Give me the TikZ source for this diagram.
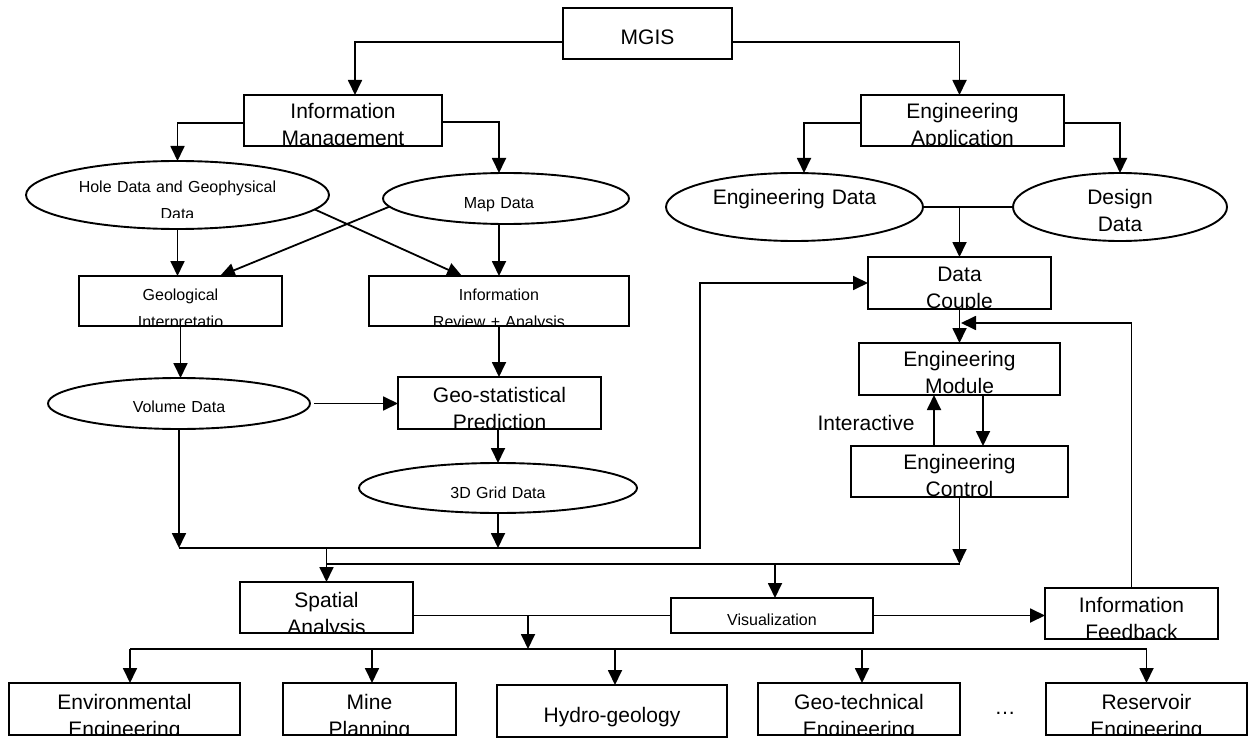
\documentclass[tikz,border=0pt]{standalone}
\usepackage{fontspec}
\setmainfont{Liberation Sans}
\usetikzlibrary{arrows.meta,calc,shapes.geometric}

\tikzset{
  box/.style={draw, line width=1.9pt, rectangle, inner sep=0pt, outer sep=0pt},
  oval/.style={draw, line width=1.9pt, ellipse, inner sep=0pt, outer sep=0pt},
  conn/.style={line width=1.8pt},
  arr/.style={conn, -{Triangle[length=15pt,width=14pt]}},
  txtL/.style={font=\fontsize{21}{27}\selectfont, align=center, text width=400pt, inner sep=0pt, anchor=base},
  txtS/.style={font=\fontsize{16}{27}\selectfont, align=center, text width=400pt, inner sep=0pt, anchor=base},
}

% text of a box, cut off at the box outline
\newcommand\boxtext[4]{%
  \begin{scope}
    \clip (#1.south west) rectangle (#1.north east);
    \node[#2] (#1-text) at #3 {#4};
  \end{scope}}

\begin{document}
\begin{tikzpicture}[x=1pt,y=-1pt]
\fill[white] (0,0) rectangle (1250,738);
\useasboundingbox (0,0) rectangle (1250,738);

% ---------- shapes ----------
\node[box, minimum width=169pt, minimum height=51pt] (mgis) at (647.5,33.5) {};
\node[box, minimum width=198pt, minimum height=51pt] (im)   at (343,120.5) {};
\node[box, minimum width=203pt, minimum height=51pt] (ea)   at (962.5,120.5) {};

\node[oval, minimum width=303pt, minimum height=68pt] (hole)   at (177.5,195) {};
\node[oval, minimum width=246pt, minimum height=51pt] (map)    at (506,198.5) {};
\node[oval, minimum width=257pt, minimum height=68pt] (engd)   at (794.5,207) {};
\node[oval, minimum width=214pt, minimum height=68pt] (design) at (1120,207) {};

\node[box, minimum width=203pt, minimum height=50pt] (geo) at (180.5,301) {};
\node[box, minimum width=260pt, minimum height=50pt] (rev) at (499,301) {};
\node[box, minimum width=183pt, minimum height=52pt] (dc)  at (959.5,283) {};

\node[oval, minimum width=262pt, minimum height=51pt] (vol) at (179,403.5) {};
\node[box, minimum width=203pt, minimum height=52pt] (gs)  at (499.5,403) {};
\node[box, minimum width=201pt, minimum height=52pt] (em)  at (959.5,369) {};
\node[box, minimum width=217pt, minimum height=51pt] (ec)  at (959.5,471.5) {};
\node[oval, minimum width=278pt, minimum height=50pt] (grid) at (498,488) {};

\node[box, minimum width=173pt, minimum height=51pt] (sa)  at (326.5,607.5) {};
\node[box, minimum width=202pt, minimum height=35pt] (vis) at (772,615.5) {};
\node[box, minimum width=173pt, minimum height=51pt] (fb)  at (1131.5,613.5) {};

\node[box, minimum width=231pt, minimum height=52pt] (env)   at (124.5,709) {};
\node[box, minimum width=173pt, minimum height=52pt] (mine)  at (369.5,709) {};
\node[box, minimum width=230pt, minimum height=52pt] (hydro) at (612,711) {};
\node[box, minimum width=202pt, minimum height=52pt] (geot)  at (859,709) {};
\node[box, minimum width=201pt, minimum height=52pt] (res)   at (1146.5,709) {};

% ---------- texts ----------
\boxtext{mgis}{txtL}{(647.5,45)}{MGIS}
\boxtext{im}{txtL}{(343,119)}{Information\\Management}
\boxtext{ea}{txtL}{(962.5,119)}{Engineering\\Application}

\begin{scope}
  \clip (hole.north west) rectangle ($(hole.east)+(0,23)$);
  \node[txtS] (hole-text) at (177.5,193) {Hole Data and Geophysical\\Data};
\end{scope}
\node[txtS] (map-text)  at (499,208.5) {Map Data};
\node[txtL] (engd-text) at (794.5,205) {Engineering Data};
\begin{scope}
  \clip (design.north west) rectangle ($(design.east)+(0,25)$);
  \node[txtL] (design-text) at (1120,205) {Design\\Data};
\end{scope}

\boxtext{geo}{txtS}{(180.5,300)}{Geological\\Interpretatio}
\boxtext{rev}{txtS}{(499,300)}{Information\\Review + Analysis}
\boxtext{dc}{txtL}{(959.5,281)}{Data\\Couple}

\node[txtS] (vol-text) at (179,412) {Volume Data};
\boxtext{gs}{txtL}{(499.5,402)}{Geo-statistical\\Prediction}
\boxtext{em}{txtL}{(959.5,366)}{Engineering\\Module}
\boxtext{ec}{txtL}{(959.5,469)}{Engineering\\Control}
\node[txtS] (grid-text) at (498,498) {3D Grid Data};
\node[txtL] (inter) at (866,430) {Interactive};

\boxtext{sa}{txtL}{(326.5,607)}{Spatial\\Analysis}
\boxtext{vis}{txtS}{(772,625)}{Visualization}
\boxtext{fb}{txtL}{(1131.5,612)}{Information\\Feedback}

\boxtext{env}{txtL}{(124.5,709)}{Environmental\\Engineering}
\boxtext{mine}{txtL}{(369.5,709)}{Mine\\Planning}
\boxtext{hydro}{txtL}{(612,722)}{Hydro-geology}
\boxtext{geot}{txtL}{(859,709)}{Geo-technical\\Engineering}
\boxtext{res}{txtL}{(1146.5,709)}{Reservoir\\Engineering}
\node[txtL] (dots) at (1005,714) {…};

% ---------- connectors ----------
% MGIS branches
\draw[arr] ($(mgis.west)+(0,8.5)$) -| ($(im.north)+(12,0)$);
\draw[arr] ($(mgis.east)+(0,8.5)$) -| ($(ea.north)+(-3,0)$);

% information management branch
\draw[arr] ($(im.west)+(0,2.5)$) -| (hole.north);
\draw[arr] ($(im.east)+(0,1.5)$) -| ($(map.north)+(-7,0)$);
\draw[arr] (hole.south) -- (hole.south |- geo.north);
\draw[arr] (map.south -| rev.north) -- (rev.north);
\draw[arr] (hole.-6.8) -- ($(rev.north)+(-37,0)$);
\draw[arr] (map.184.2) -- ($(geo.north)+(39.5,0)$);
\draw[arr] (geo.south) -- (geo.south |- vol.north);
\draw[arr] (rev.south) -- (rev.south |- gs.north);
\draw[arr] ([xshift=4pt]vol.east) -- (gs.west |- vol.east);
\draw[arr] (gs.south -| grid.north) -- (grid.north);

% engineering application branch
\draw[arr] ($(ea.west)+(0,2.5)$) -| ($(engd.north)+(9.5,0)$);
\draw[arr] ($(ea.east)+(0,2.5)$) -| (design.north);
\draw[conn] (engd.east) -- (design.west);
\draw[arr] (engd.east -| dc.north) -- (dc.north);
\draw[arr] (dc.south) -- (em.north);
\draw[arr] ($(ec.north)+(-25.5,0)$) -- ($(em.south)+(-25.5,0)$);
\draw[arr] ($(em.south)+(23.5,0)$) -- ($(ec.north)+(23.5,0)$);

% collecting line of the geological data
\coordinate (b1) at (700,548);
\draw[arr] (vol.south) -- (vol.south |- b1);
\draw[arr] (grid.south) -- (grid.south |- b1);
\draw[arr] (vol.south |- b1) -- (b1) |- (dc.west);
\draw[arr] (sa.north |- b1) -- (sa.north);

% engineering control to the output stage
\coordinate (b2) at ($(ec.south)+(0,67)$);
\draw[arr] (ec.south) -- (b2);
\draw[conn] (b2) -- (b2 -| sa.north);
\draw[arr] ($(b2 -| vis.north)+(3,0)$) -- ($(vis.north)+(3,0)$);

% spatial analysis, visualization and feedback
\draw[conn] (sa.east |- vis.west) -- (vis.west);
\draw[arr] (vis.east) -- (vis.east -| fb.west);
\coordinate (fbin) at ($(dc.south)+(1.5,14)$);
\draw[arr] (fb.north) |- (fbin);

% applications
\coordinate (bb) at (0,649);
\coordinate (sv) at ($(sa.east |- vis.west)+(115,0)$);
\draw[arr] (sv) -- (sv |- bb);
\draw[conn] ($(env.north |- bb)+(5.5,0)$) -- (res.north |- bb);
\draw[arr] ($(env.north |- bb)+(5.5,0)$) -- ($(env.north)+(5.5,0)$);
\draw[arr] ($(mine.north |- bb)+(2.5,0)$) -- ($(mine.north)+(2.5,0)$);
\draw[arr] ($(hydro.north |- bb)+(3,0)$) -- ($(hydro.north)+(3,0)$);
\draw[arr] ($(geot.north |- bb)+(3,0)$) -- ($(geot.north)+(3,0)$);
\draw[arr] (res.north |- bb) -- (res.north);
\end{tikzpicture}
\end{document}
